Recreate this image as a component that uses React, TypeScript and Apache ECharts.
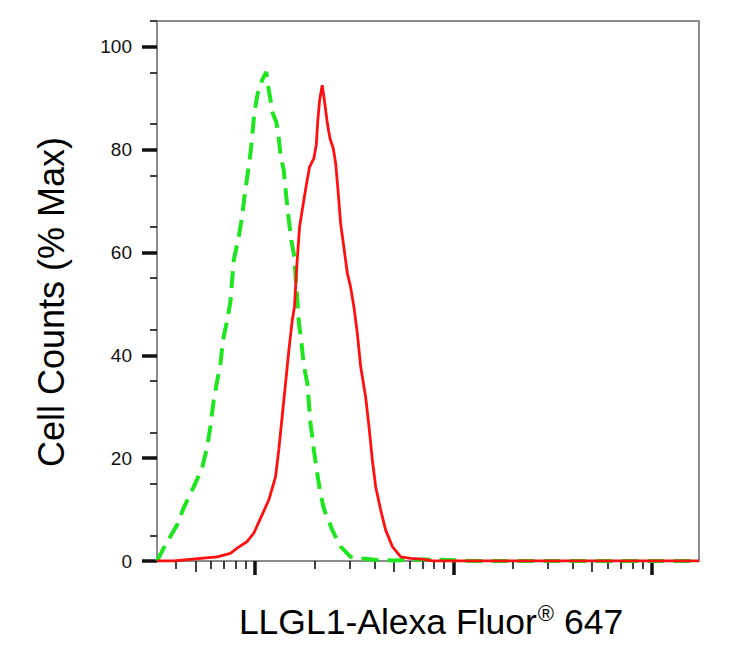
import React, { useEffect, useRef } from "react";
import * as echarts from "echarts";

// x values are log10 of fluorescence intensity
const controlX = [1.506, 1.548, 1.607, 1.640, 1.691, 1.733, 1.759, 1.775, 1.792, 1.804, 1.826, 1.839, 1.860, 1.876, 1.893, 1.918, 1.935, 1.948, 1.961, 1.977, 1.986, 1.997, 2.014, 2.036, 2.057, 2.070, 2.090, 2.107, 2.117, 2.129, 2.145, 2.158, 2.168, 2.183, 2.199, 2.206, 2.213, 2.221, 2.233, 2.246, 2.264, 2.280, 2.297, 2.309, 2.327, 2.347, 2.390, 2.432, 2.482, 2.533, 2.617, 2.700, 2.840, 2.980, 3.100, 3.400, 3.700, 4.000, 4.239];
const controlY = [0, 3.1, 7.0, 10.3, 14.4, 18.0, 22.2, 26.1, 31.3, 33.9, 38.4, 43.0, 46.8, 50.4, 58.5, 63.0, 66.9, 71.1, 74.7, 79.2, 82.5, 87.3, 90.9, 93.5, 95.1, 91.5, 87.0, 85.4, 83.4, 78.9, 76.0, 70.8, 67.2, 62.4, 59.1, 54.6, 51.1, 46.5, 43.0, 38.1, 34.5, 26.8, 21.6, 18.3, 13.8, 10.2, 6.0, 2.8, 0.8, 0.5, 0.2, 0.1, 0.3, 0.2, 0, 0, 0, 0, 0];

const sampleX = [1.506, 1.590, 1.725, 1.809, 1.876, 1.910, 1.961, 1.994, 2.028, 2.070, 2.104, 2.120, 2.137, 2.154, 2.171, 2.188, 2.199, 2.213, 2.225, 2.241, 2.259, 2.275, 2.297, 2.309, 2.317, 2.326, 2.339, 2.351, 2.365, 2.378, 2.395, 2.407, 2.420, 2.432, 2.448, 2.466, 2.482, 2.499, 2.516, 2.533, 2.558, 2.575, 2.592, 2.609, 2.634, 2.659, 2.693, 2.735, 2.785, 2.853, 2.895, 3.200, 3.600, 4.000, 4.239];
const sampleY = [0, 0, 0.5, 0.8, 1.5, 2.5, 3.8, 5.4, 8.3, 11.9, 16.4, 21.6, 28.0, 34.5, 41.0, 46.8, 49.4, 58.5, 65.0, 68.9, 73.1, 76.6, 78.3, 80.9, 85.7, 89.6, 92.5, 89.3, 85.1, 82.2, 80.2, 77.3, 71.5, 65.6, 61.1, 55.9, 53.3, 49.4, 44.3, 37.8, 31.9, 26.1, 19.6, 14.4, 9.9, 6.0, 2.8, 0.8, 0.5, 0.3, 0, 0, 0, 0, 0];

const xMin = 1.506;
const xMax = 4.239;
const yMajorTicks = [0, 20, 40, 60, 80, 100];
const decades = [1, 2, 3, 4];
const minorMultipliers = [2, 3, 4, 6, 7, 8, 9];
const midMultipliers = [5];

const yTitle = "Cell Counts (% Max)";
const xTitleMain = "LLGL1-Alexa Fluor";
const xTitleSup = "®";
const xTitleEnd = " 647";

const FONT = "'Liberation Sans', Arial, sans-serif";
const AXIS_GRAY = "#8c8c8c";
const TICK = "#111";

function logTicks(mults: number[]) {
  const out: number[] = [];
  decades.forEach((d) => mults.forEach((m) => {
    const v = d - 1 + Math.log10(m);
    if (v > xMin && v < xMax) out.push(v);
  }));
  return out;
}

export default function App() {
  const ref = useRef<HTMLDivElement>(null);
  useEffect(() => {
    if (!ref.current) return;
    const chart = echarts.init(ref.current, undefined, { renderer: "svg" });
    const grid = { left: 157, top: 21, right: 46, bottom: 89 };
    const baseX = {
      type: "value" as const,
      min: xMin,
      max: xMax,
      gridIndex: 0,
      splitLine: { show: false },
      axisLabel: { show: false },
    };
    const yMinor: number[] = [];
    for (let v = 5; v <= 105; v += 10) yMinor.push(v);
    chart.setOption({
      animation: false,
      grid,
      xAxis: [
        {
          ...baseX,
          position: "bottom",
          axisLine: { show: true, lineStyle: { color: AXIS_GRAY, width: 2 } },
          axisTick: { show: true, length: 14, lineStyle: { color: TICK, width: 3.5 }, customValues: [2, 3, 4] },
        },
        {
          ...baseX,
          position: "bottom",
          axisLine: { show: false },
          axisTick: { show: true, length: 8, lineStyle: { color: TICK, width: 1.6 }, customValues: logTicks(minorMultipliers) },
        },
        {
          ...baseX,
          position: "bottom",
          axisLine: { show: false },
          axisTick: { show: true, length: 11, lineStyle: { color: TICK, width: 1.6 }, customValues: logTicks(midMultipliers) },
        },
        {
          ...baseX,
          position: "top",
          axisLine: { show: true, lineStyle: { color: AXIS_GRAY, width: 2 } },
          axisTick: { show: false },
        },
      ],
      yAxis: [
        {
          type: "value",
          min: 0,
          max: 105,
          position: "left",
          splitLine: { show: false },
          axisLine: { show: true, lineStyle: { color: AXIS_GRAY, width: 2 } },
          axisTick: { show: true, length: 15, lineStyle: { color: TICK, width: 3.5 }, customValues: yMajorTicks },
          axisLabel: { show: true, margin: 25, fontSize: 19, fontFamily: FONT, color: "#111", customValues: yMajorTicks },
        },
        {
          type: "value",
          min: 0,
          max: 105,
          position: "left",
          splitLine: { show: false },
          axisLine: { show: false },
          axisTick: { show: true, length: 7, lineStyle: { color: TICK, width: 1.6 }, customValues: yMinor },
          axisLabel: { show: false },
        },
        {
          type: "value",
          min: 0,
          max: 105,
          position: "right",
          splitLine: { show: false },
          axisLine: { show: true, lineStyle: { color: AXIS_GRAY, width: 2 } },
          axisTick: { show: false },
          axisLabel: { show: false },
        },
      ],
      series: [
        {
          type: "line",
          name: "Control",
          xAxisIndex: 0,
          yAxisIndex: 0,
          data: controlX.map((x, i) => [x, controlY[i]]),
          showSymbol: false,
          symbol: "none",
          lineStyle: { color: "#1ee61e", width: 4, type: [17, 9] },
          z: 2,
        },
        {
          type: "line",
          name: "LLGL1",
          xAxisIndex: 0,
          yAxisIndex: 0,
          data: sampleX.map((x, i) => [x, sampleY[i]]),
          showSymbol: false,
          symbol: "none",
          lineStyle: { color: "#ff1010", width: 2.8 },
          z: 3,
        },
      ],
      graphic: [
        {
          type: "text",
          x: 51,
          y: 302,
          rotation: Math.PI / 2,
          style: {
            text: yTitle,
            fontSize: 36,
            fontFamily: FONT,
            fill: "#000",
            align: "center",
            verticalAlign: "middle",
          },
        },
        {
          type: "text",
          x: 431,
          y: 620,
          style: {
            text: `{m|${xTitleMain}}{s|${xTitleSup}}{m|${xTitleEnd}}`,
            align: "center",
            verticalAlign: "middle",
            rich: {
              m: { fontSize: 35.5, fontFamily: FONT, fill: "#000", lineHeight: 40, verticalAlign: "bottom" },
              s: { fontSize: 22, fontFamily: FONT, fill: "#000", lineHeight: 40, verticalAlign: "top", padding: [2, 0, 0, 1] },
            },
          },
        },
      ],
    });
    return () => chart.dispose();
  }, []);
  return <div ref={ref} style={{ position: "absolute", left: 0, top: 0, width: 745, height: 650 }} />;
}
